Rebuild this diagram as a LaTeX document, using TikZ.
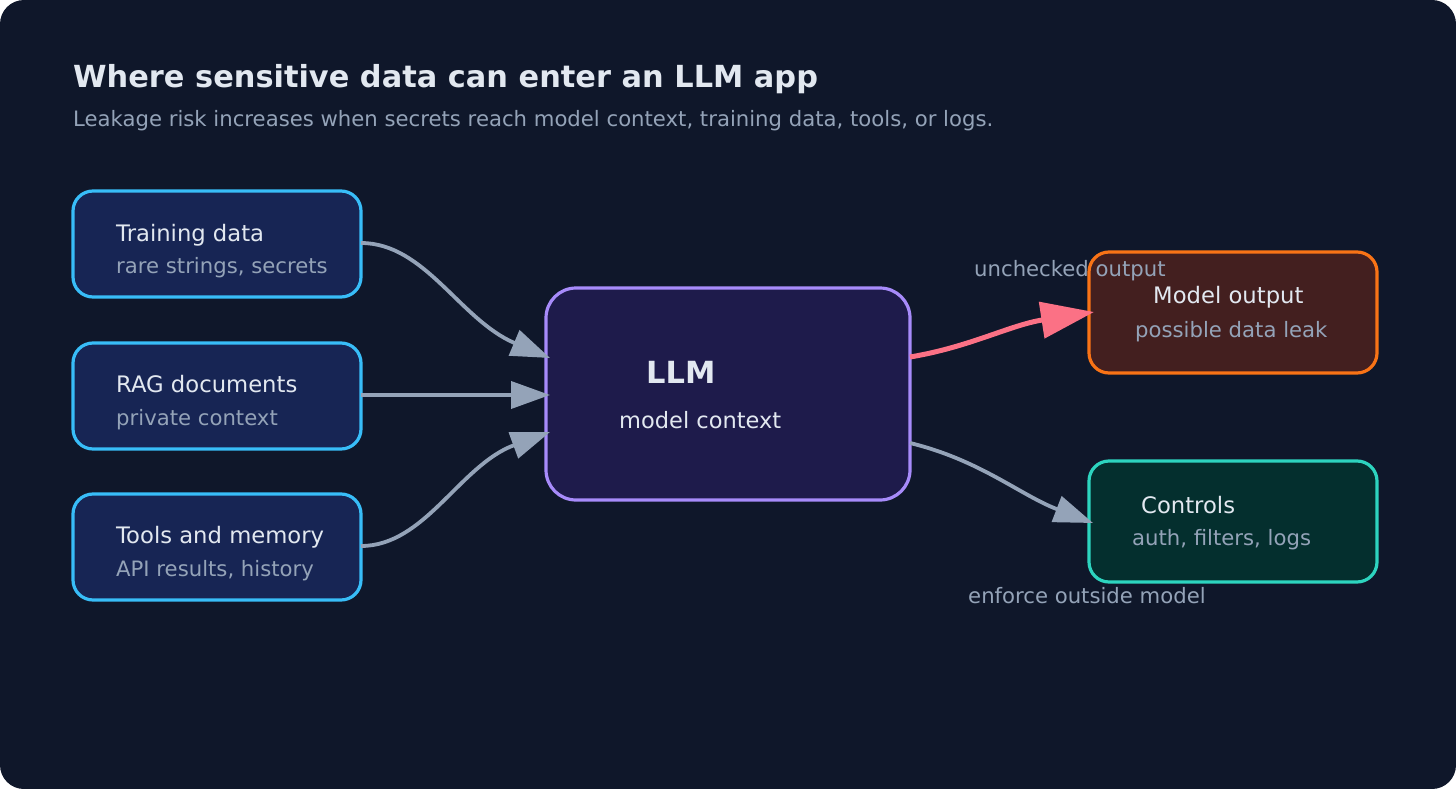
\documentclass[tikz,border=0pt]{standalone}
\usepackage{fontspec}
\setmainfont{DejaVu Sans}
\usetikzlibrary{arrows.meta}
\definecolor{bgc}{HTML}{0F172A}
\definecolor{txt}{HTML}{E2E8F0}
\definecolor{sub}{HTML}{94A3B8}
\definecolor{inf}{HTML}{172554}
\definecolor{inb}{HTML}{38BDF8}
\definecolor{llmf}{HTML}{1E1B4B}
\definecolor{llmb}{HTML}{A78BFA}
\definecolor{outf}{HTML}{431F1F}
\definecolor{outb}{HTML}{F97316}
\definecolor{ctf}{HTML}{042F2E}
\definecolor{ctb}{HTML}{2DD4BF}
\definecolor{rose}{HTML}{FB7185}
\tikzset{
  box/.style={rounded corners=20pt, line width=3.2pt},
  inbox/.style={box, fill=inf, draw=inb},
  head/.style={anchor=base west, text=txt, font=\fontsize{22.7}{26}\selectfont, inner sep=0pt},
  subt/.style={anchor=base west, text=sub, font=\fontsize{21.2}{25}\selectfont, inner sep=0pt},
  conn/.style={draw=sub, line width=3.8pt, -{Triangle[length=39pt,width=27pt]}},
  hot/.style={draw=rose, line width=5pt, -{Triangle[length=53pt,width=36pt]}},
}
\begin{document}
\begin{tikzpicture}[x=1pt,y=-1pt]
\useasboundingbox (0,0) rectangle (1456,789);
\fill[white] (0,0) rectangle (1456,789);
\fill[bgc, rounded corners=24pt] (0,0) rectangle (1456,789);
\node[anchor=base west, text=txt, inner sep=0pt, font=\bfseries\fontsize{30.4}{34}\selectfont] (title) at (73,88) {Where sensitive data can enter an LLM app};
\node[subt] (subtitle) at (73,127) {Leakage risk increases when secrets reach model context, training data, tools, or logs.};
% input boxes
\draw[inbox] (73,191) rectangle (361,297);
\coordinate (trainE) at (361,243);
\node[head] (trainh) at (116,241) {Training data};
\node[subt] (trains) at (116,273) {rare strings, secrets};
\draw[inbox] (73,343) rectangle (361,449);
\coordinate (ragE) at (361,395);
\node[head] (ragh) at (116,392) {RAG documents};
\node[subt] (rags) at (116,425) {private context};
\draw[inbox] (73,494) rectangle (361,600);
\coordinate (toolE) at (361,546);
\node[head] (toolh) at (116,543) {Tools and memory};
\node[subt] (tools) at (116,576) {API results, history};
% LLM
\draw[box, rounded corners=30pt, fill=llmf, draw=llmb] (546,288) rectangle (910,500);
\node[anchor=base west, text=txt, inner sep=0pt, font=\bfseries\fontsize{30.5}{34}\selectfont] (llm) at (646,383) {LLM};
\node[anchor=base west, text=txt, inner sep=0pt, font=\fontsize{22.5}{26}\selectfont] (ctx) at (619,428) {model context};
\coordinate (llmA) at (550,358);
\coordinate (llmB) at (550,395);
\coordinate (llmC) at (550,432);
\coordinate (llmD) at (910,357);
\coordinate (llmE) at (910,443);
% outputs
\draw[box, fill=outf, draw=outb] (1089,252) rectangle (1377,373);
\node[head] (outh) at (1153,303) {Model output};
\node[subt] (outs) at (1135,337) {possible data leak};
\coordinate (outW) at (1094,312);
\draw[box, fill=ctf, draw=ctb] (1089,461) rectangle (1377,582);
\node[head] (cth) at (1141,513) {Controls};
\node[subt] (cts) at (1132,545) {auth, filters, logs};
\coordinate (ctW) at (1093,523);
% connectors
\draw[conn] (trainE) .. controls (425,243) and (460,320) .. (llmA);
\draw[conn] (ragE) -- (llmB);
\draw[conn] (toolE) .. controls (425,546) and (460,465) .. (llmC);
\draw[hot] (llmD) .. controls (970,347) and (1010,325) .. (outW);
\draw[conn] (llmE) .. controls (980,460) and (1020,495) .. (ctW);
\node[subt] (lab1) at (974,276) {unchecked output};
\node[subt] (lab2) at (968,603) {enforce outside model};
\end{tikzpicture}
\end{document}
